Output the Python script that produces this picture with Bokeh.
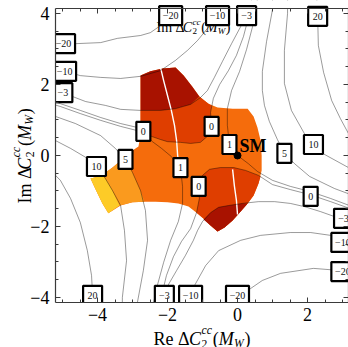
import numpy as np
from bokeh.plotting import figure
from bokeh.models import Range1d, LinearAxis, FixedTicker, ColumnDataSource
from bokeh.core.properties import value
from bokeh.embed import file_html
from bokeh.resources import INLINE

# ---------------- contour lines ----------------
m20_up_x = [-5.34, -4.94, -4.63, -3.91, -3.43, -2.77, -2.49, -2.20, -1.91, -1.74]
m20_up_y = [3.13, 3.15, 3.15, 3.18, 3.30, 3.38, 3.46, 3.66, 3.94, 4.25]
m20_lo_x = [3.37, 2.94, 2.17, 1.23, 0.71, 0.37, 0.00, -0.11]
m20_lo_y = [-3.18, -3.24, -3.18, -3.32, -3.52, -3.75, -3.94, -4.25]
m10_up_x = [-5.34, -4.91, -4.49, -3.91, -3.34, -2.77, -2.20, -1.77, -1.43, -1.14, -0.86, -0.57, -0.43]
m10_up_y = [2.34, 2.37, 2.25, 2.20, 2.17, 2.23, 2.39, 2.68, 2.96, 3.24, 3.58, 3.94, 4.25]
m10_lo_x = [3.37, 2.94, 2.66, 2.09, 1.51, 0.66, 0.09, -0.54, -0.91, -1.26, -1.34, -1.43]
m10_lo_y = [-2.48, -2.45, -2.25, -2.17, -2.17, -2.25, -2.39, -2.68, -3.10, -3.72, -3.94, -4.25]
m3_up_x = [-5.34, -4.97, -4.71, -4.34, -3.77, -3.34, -2.77, -2.20, -1.77, -1.34, -1.06, -0.86,
           -0.66, -0.43, -0.17, 0.09, 0.26, 0.34]
m3_up_y = [1.77, 1.77, 1.66, 1.52, 1.41, 1.30, 1.27, 1.27, 1.32, 1.44, 1.63, 1.83,
           2.20, 2.65, 3.15, 3.63, 3.97, 4.25]
m3_lo_x = [3.37, 2.97, 2.77, 2.37, 1.91, 1.51, 1.06, 0.60, 0.14, -0.26, -0.54, -0.77, -1.00,
           -1.14, -1.26, -1.49, -1.74, -1.97, -2.09, -2.17]
m3_lo_y = [-1.80, -1.77, -1.72, -1.58, -1.44, -1.35, -1.30, -1.30, -1.35, -1.41, -1.46, -1.61,
           -1.86, -2.11, -2.39, -2.82, -3.24, -3.63, -3.94, -4.25]
z_up_x = [-5.34, -5.06, -4.49, -3.91, -3.34, -2.86, -2.69, -2.46, -2.20, -2.00, -1.63, -1.34,
          -1.06, -0.86, -0.74, -0.77, -0.69, -0.51, -0.26, -0.03, 0.17, 0.29, 0.37, 0.40]
z_up_y = [1.52, 1.46, 1.27, 1.07, 0.90, 0.79, 0.68, 0.54, 0.45, 0.39, 0.37, 0.34,
          0.37, 0.54, 0.82, 1.21, 1.61, 2.00, 2.39, 2.82, 3.35, 3.80, 4.20, 4.37]
z_lo_x = [3.37, 3.20, 2.66, 2.06, 1.51, 1.00, 0.60, 0.23, -0.11, -0.49, -0.80, -1.00, -1.11,
          -1.09, -1.17, -1.34, -1.60, -1.83, -2.03, -2.14, -2.26]
z_lo_y = [-1.55, -1.49, -1.30, -1.10, -0.96, -0.82, -0.56, -0.42, -0.34, -0.34, -0.39, -0.56,
          -0.87, -1.21, -1.61, -2.06, -2.42, -2.85, -3.38, -3.83, -4.23]
one_r_x = [0.57, 0.54, 0.43, 0.26, 0.06, -0.17, -0.29, -0.29, -0.23, 0.00, 0.31, 0.57, 1.00,
           1.51, 2.06, 2.66, 3.20, 3.37]
one_r_y = [4.42, 4.14, 3.63, 2.99, 2.37, 1.83, 1.32, 0.85, 0.31, 0.00, -0.23, -0.45, -0.70,
           -0.87, -1.01, -1.21, -1.41, -1.46]
one_l_x = [-5.34, -5.06, -4.49, -3.91, -3.34, -2.86, -2.63, -2.43, -2.17, -1.89, -1.63, -1.57,
           -1.57, -1.69, -1.91, -2.11, -2.29, -2.40, -2.43]
one_l_y = [1.46, 1.38, 1.18, 0.99, 0.82, 0.70, 0.56, 0.39, 0.20, -0.03, -0.34, -0.87,
           -1.35, -1.86, -2.39, -3.01, -3.66, -4.17, -4.37]
five_r_x = [1.00, 1.00, 0.83, 0.71, 0.71, 0.77, 0.91, 1.14, 1.34, 1.63, 2.06, 2.77, 3.37]
five_r_y = [4.42, 4.11, 3.21, 2.37, 1.83, 1.41, 0.96, 0.45, 0.06, -0.23, -0.59, -0.93, -1.15]
five_l_x = [-5.34, -5.20, -4.63, -3.91, -3.49, -3.20, -3.00, -2.77, -2.63, -2.57, -2.69, -2.86, -2.86]
five_l_y = [1.18, 1.10, 0.90, 0.56, 0.20, -0.11, -0.48, -0.99, -1.55, -2.39, -3.24, -4.14, -4.39]
ten_r_x = [1.43, 1.43, 1.34, 1.34, 1.54, 1.91, 2.17, 2.43, 3.17, 3.37]
ten_r_y = [4.42, 4.00, 2.96, 2.03, 1.27, 0.62, 0.31, 0.06, -0.34, -0.42]
ten_l_x = [-5.34, -5.20, -4.77, -4.29, -4.03, -3.83, -3.57, -3.34, -3.23, -3.17, -3.29, -3.29]
ten_l_y = [0.54, 0.42, 0.20, -0.08, -0.31, -0.56, -0.99, -1.41, -2.11, -2.96, -4.00, -4.39]
twenty_r_x = [2.26, 2.29, 2.31, 2.46, 2.69, 2.94, 3.17, 3.37]
twenty_r_y = [4.51, 3.92, 3.10, 2.34, 1.55, 1.04, 0.62, 0.28]
twenty_l_x = [-5.34, -5.06, -4.77, -4.49, -4.29, -4.17, -4.14, -4.14]
twenty_l_y = [-0.42, -0.70, -1.21, -1.89, -2.68, -3.38, -3.94, -4.37]

# ---------------- allowed region, banded by the observable ----------------
blob_x = [-2.77, -2.49, -2.14, -1.77, -1.54, -1.29, -1.09, -0.83, -0.57, -0.14, 0.29, 0.46, 0.57,
          0.66, 0.69, 0.69, 0.60, 0.46, 0.29, 0.09, -0.14, -0.37, -0.57, -0.77, -0.94, -1.17,
          -1.40, -1.69, -2.00, -2.34, -2.63, -3.00, -3.34, -3.69, -3.86, -4.03, -4.20, -3.97,
          -3.77, -3.57, -3.40, -3.20, -3.00, -2.83, -2.77, -2.77]
blob_y = [2.25, 2.37, 2.45, 2.48, 2.25, 1.94, 1.66, 1.46, 1.35, 1.32, 1.32, 1.10, 0.79,
          0.42, 0.00, -0.42, -0.79, -1.13, -1.35, -1.58, -1.83, -2.03, -2.14, -1.97, -1.80, -1.61,
          -1.44, -1.35, -1.32, -1.30, -1.30, -1.32, -1.41, -1.63, -1.35, -1.01, -0.65, -0.59,
          -0.48, -0.34, -0.20, -0.03, 0.14, 0.25, 0.56, 1.27]
dred_top_x = [-2.77, -2.49, -2.14, -1.77, -1.54, -1.29, -1.09, -1.34, -1.77, -2.20, -2.77]
dred_top_y = [2.25, 2.37, 2.45, 2.48, 2.25, 1.94, 1.66, 1.44, 1.32, 1.27, 1.27]
red_top_x = [-2.77, -2.20, -1.77, -1.34, -1.09, -0.83, -0.74, -0.77, -0.74, -0.86, -1.06, -1.34,
             -1.63, -2.00, -2.20, -2.46, -2.69, -2.77]
red_top_y = [1.27, 1.27, 1.32, 1.44, 1.66, 1.46, 1.41, 1.21, 0.82, 0.54, 0.37, 0.34,
             0.37, 0.39, 0.45, 0.54, 0.68, 0.73]
red_lo_x = [0.66, 0.60, 0.46, 0.29, 0.09, -0.14, -0.37, -0.57, -0.77, -0.94, -1.17, -1.09, -1.11,
            -1.00, -0.80, -0.49, -0.11, 0.23, 0.60]
red_lo_y = [-0.59, -0.79, -1.13, -1.35, -1.58, -1.83, -2.03, -2.14, -1.97, -1.80, -1.61, -1.21,
            -0.87, -0.56, -0.39, -0.34, -0.34, -0.42, -0.56]
dred_lo_x = [-0.97, -0.77, -0.54, -0.26, 0.14, 0.29, 0.09, -0.14, -0.37, -0.57, -0.77]
dred_lo_y = [-1.80, -1.61, -1.46, -1.41, -1.35, -1.35, -1.58, -1.83, -2.03, -2.14, -1.97]
lor_x = [-3.86, -3.77, -3.57, -3.40, -3.26, -3.20, -3.00, -2.77, -2.66, -3.00, -3.37, -3.57, -3.74]
lor_y = [-0.54, -0.48, -0.34, -0.20, -0.06, -0.11, -0.48, -0.99, -1.30, -1.32, -1.41, -0.99, -0.70]
yel_x = [-4.20, -3.97, -3.86, -3.74, -3.57, -3.37, -3.69, -3.86, -4.03]
yel_y = [-0.65, -0.59, -0.54, -0.70, -0.99, -1.41, -1.63, -1.35, -1.01]
wl1_x = [-2.20, -2.11, -2.00, -1.89, -1.80, -1.74, -1.71, -1.69]
wl1_y = [2.48, 2.11, 1.69, 1.27, 0.85, 0.42, 0.00, -0.14]
wl2_x = [-0.14, -0.09, -0.03, 0.00]
wl2_y = [-0.39, -0.85, -1.27, -1.66]

# ---------------- contour labels ----------------
lab_x = [-1.91, -0.57, 0.26, 2.29, -4.97, -4.94, -4.99, -4.14, -2.09, -1.34, 0.00, 3.03, 3.01, 3.01,
         -2.69, -0.74, -0.23, -1.63, -1.11, -3.20, -4.03, 1.34, 2.17, 2.09]
lab_y = [3.94, 3.94, 3.94, 3.92, 3.15, 2.37, 1.77, -3.94, -3.94, -3.94, -3.94, -1.77, -2.45, -3.27,
         0.68, 0.82, 0.31, -0.34, -0.87, -0.11, -0.31, 0.06, 0.31, -1.15]
lab_t = ["−20", "−10", "−3", "20", "−20", "−10", "−3", "20", "−3", "−10", "−20", "−3", "−10", "−20",
         "0", "0", "1", "1", "0", "5", "10", "5", "10", "0"]

sm_x = [0.0]
sm_y = [0.0]

x_major = [-4, -2, 0, 2]
y_major = [-4, -2, 0, 2, 4]
tick_text = {-4: "−4", -2: "−2", 0: "0", 2: "2", 4: "4"}

# ---------------- geometry: the frame covers the whole canvas ----------------
W, H = 348, 347
XMIN, XMAX = -5.2, 3.1714          # plotted box (drawn with fixed-location axes)
YMIN, YMAX = -4.1408, 4.1408
PX_X, PX_Y = 35.0, 35.5             # pixels per unit
X0 = XMIN - 55 / PX_X
X1 = X0 + W / PX_X
Y1 = YMAX + 8 / PX_Y
Y0 = Y1 - H / PX_Y
SERIF = "Liberation Serif"

p = figure(width=W, height=H, x_range=Range1d(X0, X1), y_range=Range1d(Y0, Y1),
           output_backend="svg", toolbar_location=None,
           x_axis_location=None, y_axis_location=None,
           min_border_left=0, min_border_right=0, min_border_top=0, min_border_bottom=0)
p.outline_line_color = None
p.background_fill_color = "white"
p.border_fill_color = "white"
p.xgrid.visible = False
p.ygrid.visible = False

def px2x(px):
    return X0 + px / PX_X

def px2y(py):
    return Y1 - py / PX_Y

def minor(lo, hi, majors):
    return [float(v) for v in np.arange(lo, hi + 1e-9, 0.5) if all(abs(v - m) > 1e-9 for m in majors)]

def make_axis(ticker, loc, fixed, bounds, labels):
    ax = LinearAxis(ticker=ticker, fixed_location=fixed, bounds=bounds)
    ax.axis_line_color = "#3a3a3a"
    ax.axis_line_width = 1.2
    ax.major_tick_in = 5
    ax.major_tick_out = 0
    ax.minor_tick_in = 3
    ax.minor_tick_out = 0
    ax.major_tick_line_color = "#3a3a3a"
    ax.minor_tick_line_color = "#3a3a3a"
    ax.major_label_text_font = SERIF
    ax.major_label_text_color = "black"
    ax.major_label_text_font_size = "18px"
    ax.major_label_standoff = 6
    if labels:
        ax.major_label_overrides = tick_text
    else:
        ax.major_label_overrides = {t: "" for t in ticker.ticks}
    p.add_layout(ax, loc)

xt = FixedTicker(ticks=x_major, minor_ticks=minor(-5, 3, x_major))
yt = FixedTicker(ticks=y_major, minor_ticks=minor(-4, 4, y_major))

# ---------------- filled region ----------------
C_DRED, C_RED, C_ORA, C_LOR, C_YEL = "#A81200", "#DF3E00", "#F56C0C", "#FA9A1E", "#FDCB27"
p.patch(blob_x, blob_y, fill_color=C_ORA, line_color=None)
p.patch(red_top_x, red_top_y, fill_color=C_RED, line_color=None)
p.patch(dred_top_x, dred_top_y, fill_color=C_DRED, line_color=None)
p.patch(red_lo_x, red_lo_y, fill_color=C_RED, line_color=None)
p.patch(dred_lo_x, dred_lo_y, fill_color=C_DRED, line_color=None)
p.patch(lor_x, lor_y, fill_color=C_LOR, line_color=None)
p.patch(yel_x, yel_y, fill_color=C_YEL, line_color=None)
p.line(wl1_x, wl1_y, line_color="white", line_width=1.4)
p.line(wl2_x, wl2_y, line_color="white", line_width=1.4)

# ---------------- contour lines ----------------
lines = [(m20_up_x, m20_up_y), (m20_lo_x, m20_lo_y), (m10_up_x, m10_up_y), (m10_lo_x, m10_lo_y),
         (m3_up_x, m3_up_y), (m3_lo_x, m3_lo_y), (z_up_x, z_up_y), (z_lo_x, z_lo_y),
         (one_r_x, one_r_y), (one_l_x, one_l_y), (five_r_x, five_r_y), (five_l_x, five_l_y),
         (ten_r_x, ten_r_y), (ten_l_x, ten_l_y), (twenty_r_x, twenty_r_y), (twenty_l_x, twenty_l_y)]
p.multi_line([l[0] for l in lines], [l[1] for l in lines], line_color="black",
             line_alpha=0.42, line_width=0.95)

# ---------------- composite math text ----------------
def math_pieces(head, head_adv):
    # (text, style, scale, shift_em, advance_em)
    return [(head, "normal", 1.0, 0.0, head_adv),
            ("C", "italic", 1.0, 0.0, 0.70),
            ("2", "normal", 0.65, -0.28, 0.0),
            ("cc", "italic", 0.65, 0.42, 0.62),
            ("(", "normal", 1.0, 0.0, 0.333),
            ("M", "italic", 1.0, 0.0, 0.85),
            ("W", "italic", 0.65, -0.25, 0.58),
            (")", "normal", 1.0, 0.0, 0.333)]

def compose(pieces, x0, y0, size, vertical=False):
    pos = 0.0
    for txt, sty, sc, sh, adv in pieces:
        if vertical:
            cx, cy, ang = x0 - sh * size, y0 - pos, np.pi / 2
        else:
            cx, cy, ang = x0 + pos, y0 - sh * size, 0.0
        p.text(x=[px2x(cx)], y=[px2y(cy)], text=[txt], text_font=value(SERIF),
               text_font_size=value("%.1fpx" % (size * sc)), text_font_style=sty,
               text_color="black", text_align="left", text_baseline="alphabetic", angle=ang)
        pos += adv * size

# partially hidden caption near the top of the frame
compose(math_pieces("Im Δ", 1.87), 156, 27, 14)

# white margins outside the plotted box (top first: labels there overhang the frame)
p.quad(left=[X0], right=[X1], bottom=[YMAX], top=[Y1], fill_color="white", line_color=None)

# ---------------- contour labels ----------------
widths = {1: 14, 2: 19, 3: 23}
src = ColumnDataSource(dict(x=lab_x, y=lab_y, t=lab_t, w=[widths[len(t)] for t in lab_t]))
p.rect(x="x", y="y", width="w", height=19, width_units="screen", height_units="screen",
       source=src, fill_color="white", line_color="black", line_width=2.2)
p.text(x="x", y="y", text="t", source=src, text_font=value(SERIF), text_font_size=value("10px"),
       text_align="center", text_baseline="middle", text_color="#111111")

p.quad(left=[X0, X0], right=[XMIN, X1], bottom=[Y0, Y0], top=[Y1, YMIN],
       fill_color="white", line_color=None)

# ---------------- SM point ----------------
p.scatter(sm_x, sm_y, size=7, color="black")
p.text(x=sm_x, y=sm_y, text=["SM"], x_offset=2, y_offset=-9, text_font=value(SERIF),
       text_font_size=value("18px"), text_font_style="bold", text_color="black",
       text_align="left", text_baseline="alphabetic")

# ---------------- axes (frame) and axis labels ----------------
make_axis(xt, "below", YMIN, (XMIN, XMAX), True)
make_axis(xt, "above", YMAX, (XMIN, XMAX), False)
make_axis(yt, "left", XMIN, (YMIN, YMAX), True)
make_axis(yt, "right", XMAX, (YMIN, YMAX), False)

compose(math_pieces("Re Δ", 1.97), 153, 338, 18)
compose(math_pieces("Im Δ", 1.87), 24, 203, 18, vertical=True)

open("out.html", "w").write(file_html(p, INLINE))
